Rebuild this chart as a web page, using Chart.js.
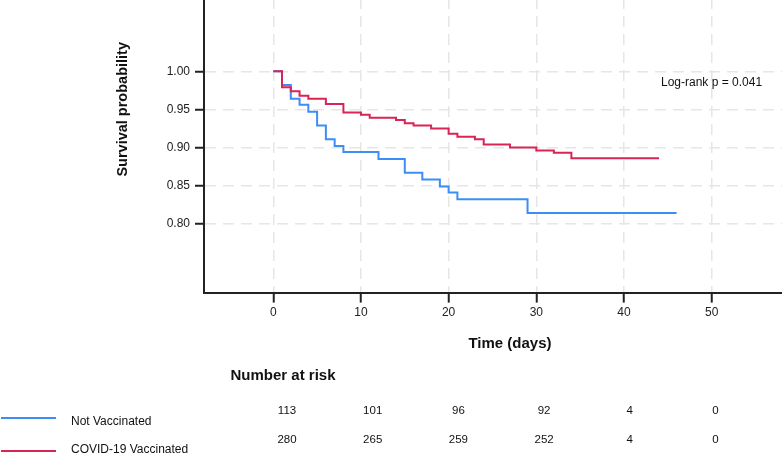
<!DOCTYPE html>
<html>
<head>
<meta charset="utf-8">
<script src="https://cdn.jsdelivr.net/npm/chart.js@4/dist/chart.umd.min.js"></script>
<style>
    html, body { margin: 0; padding: 0; background: #fff; overflow: hidden; width: 782px; height: 456px; }
    #wrap { position: absolute; left: 0; top: -74px; width: 816px; height: 530px; }
</style>
</head>
<body>
<div id="wrap"><canvas id="km-chart"></canvas></div>
<script>
// Kaplan-Meier steps
const not_vacc_days = [0, 1, 2, 3, 4, 5, 6, 7, 8, 12, 15, 17, 19, 20, 21, 29, 46];
const not_vacc_surv = [1, 0.982, 0.964, 0.956, 0.947, 0.929, 0.911, 0.902, 0.894, 0.885, 0.867, 0.858, 0.849, 0.841, 0.832, 0.814, 0.814];
const vacc_days = [0, 1, 2, 3, 4, 6, 8, 10, 11, 14, 15, 16, 18, 20, 21, 23, 24, 27, 30, 32, 34, 44];
const vacc_surv = [1, 0.979, 0.974, 0.968, 0.964, 0.957, 0.946, 0.943, 0.939, 0.936, 0.932, 0.929, 0.925, 0.918, 0.914, 0.911, 0.904, 0.900, 0.896, 0.893, 0.886, 0.886];

const x_ticks = [0, 10, 20, 30, 40, 50];
const y_ticks = [0.80, 0.85, 0.90, 0.95, 1.00];

const group_names = ["Not Vaccinated", "COVID-19 Vaccinated"];
const at_risk_not_vacc = [113, 101, 96, 92, 4, 0];
const at_risk_vacc = [280, 265, 259, 252, 4, 0];
const p_value_text = "Log-rank p = 0.041";

const blue = "#3a8ef5";
const red = "#d92456";
const font_family = "'Liberation Sans', Arial, Helvetica, sans-serif";
const shift_y = 74; // canvas starts above the page

const to_points = (days, surv) => days.map((d, i) => ({ x: d, y: surv[i] }));

const risk_table = {
    id: "risk_table",
    afterDraw: (chart) => {
        const ctx = chart.ctx;
        ctx.save();
        ctx.fillStyle = "#111";
        ctx.textBaseline = "middle";

        ctx.font = "12px " + font_family;
        ctx.textAlign = "left";
        ctx.fillText(p_value_text, 661, 83 + shift_y);

        ctx.font = "bold 15px " + font_family;
        ctx.textAlign = "center";
        ctx.fillText("Number at risk", 283, 376 + shift_y);

        // legend lines + group names
        const rows = [
            { name: group_names[0], color: blue, line_y: 418, text_y: 422, num_y: 411, values: at_risk_not_vacc },
            { name: group_names[1], color: red, line_y: 451, text_y: 450, num_y: 440, values: at_risk_vacc }
        ];
        rows.forEach((row) => {
            ctx.strokeStyle = row.color;
            ctx.lineWidth = 2;
            ctx.beginPath();
            ctx.moveTo(1, row.line_y + shift_y);
            ctx.lineTo(56, row.line_y + shift_y);
            ctx.stroke();

            ctx.font = "12px " + font_family;
            ctx.textAlign = "left";
            ctx.fillText(row.name, 71, row.text_y + shift_y);

            ctx.font = "11.5px " + font_family;
            ctx.textAlign = "center";
            row.values.forEach((v, i) => {
                ctx.fillText(String(v), 287 + i * 85.7, row.num_y + shift_y);
            });
        });
        ctx.restore();
    }
};

const chart_container = document.getElementById("km-chart").getContext("2d");
const km_chart = new Chart(chart_container, {
    type: "line",
    data: {
        datasets: [{
            label: group_names[1],
            data: to_points(vacc_days, vacc_surv),
            borderColor: red,
            borderWidth: 2,
            stepped: true,
            pointRadius: 0,
            fill: false,
            order: 0
        }, {
            label: group_names[0],
            data: to_points(not_vacc_days, not_vacc_surv),
            borderColor: blue,
            borderWidth: 2,
            stepped: true,
            pointRadius: 0,
            fill: false,
            order: 1
        }]
    },
    options: {
        responsive: true,
        maintainAspectRatio: false,
        animation: false,
        layout: { padding: 0 },
        plugins: {
            legend: { display: false },
            tooltip: { enabled: false }
        },
        scales: {
            x: {
                type: "linear",
                min: -7.9,
                max: 61.9,
                afterBuildTicks: (scale) => { scale.ticks = x_ticks.map((v) => ({ value: v })); },
                afterFit: (scale) => {
                    scale.height = 163.4;
                    scale.paddingLeft = 0;
                    scale.paddingRight = 0;
                },
                ticks: {
                    color: "#222",
                    padding: 3,
                    maxRotation: 0,
                    font: { family: font_family, size: 12 }
                },
                grid: {
                    color: "#e6e6e6",
                    lineWidth: 1.5,
                    tickColor: "#222",
                    tickLength: 10,
                    tickWidth: 2,
                    tickBorderDash: []
                },
                border: { display: true, color: "#222", width: 2, dash: [11, 7] },
                title: {
                    display: true,
                    text: "Time (days)",
                    color: "#111",
                    font: { family: font_family, size: 15, weight: "bold" },
                    padding: { top: 0, bottom: 103 }
                }
            },
            y: {
                type: "linear",
                min: 0.7096,
                max: 1.1907,
                afterBuildTicks: (scale) => { scale.ticks = y_ticks.map((v) => ({ value: v })); },
                afterFit: (scale) => {
                    scale.width = 204;
                    scale.paddingTop = 0;
                    scale.paddingBottom = 0;
                },
                ticks: {
                    color: "#222",
                    padding: 5,
                    font: { family: font_family, size: 12 },
                    callback: (v) => Number(v).toFixed(2)
                },
                grid: {
                    color: "#e6e6e6",
                    lineWidth: 1.5,
                    tickColor: "#222",
                    tickLength: 9,
                    tickWidth: 2,
                    tickBorderDash: []
                },
                border: { display: true, color: "#222", width: 2, dash: [11, 7] },
                title: {
                    display: true,
                    text: "Survival probability",
                    color: "#111",
                    font: { family: font_family, size: 14.5, weight: "bold" },
                    padding: { top: 114.3, bottom: 0 }
                }
            }
        }
    },
    plugins: [risk_table]
});
</script>
</body>
</html>
